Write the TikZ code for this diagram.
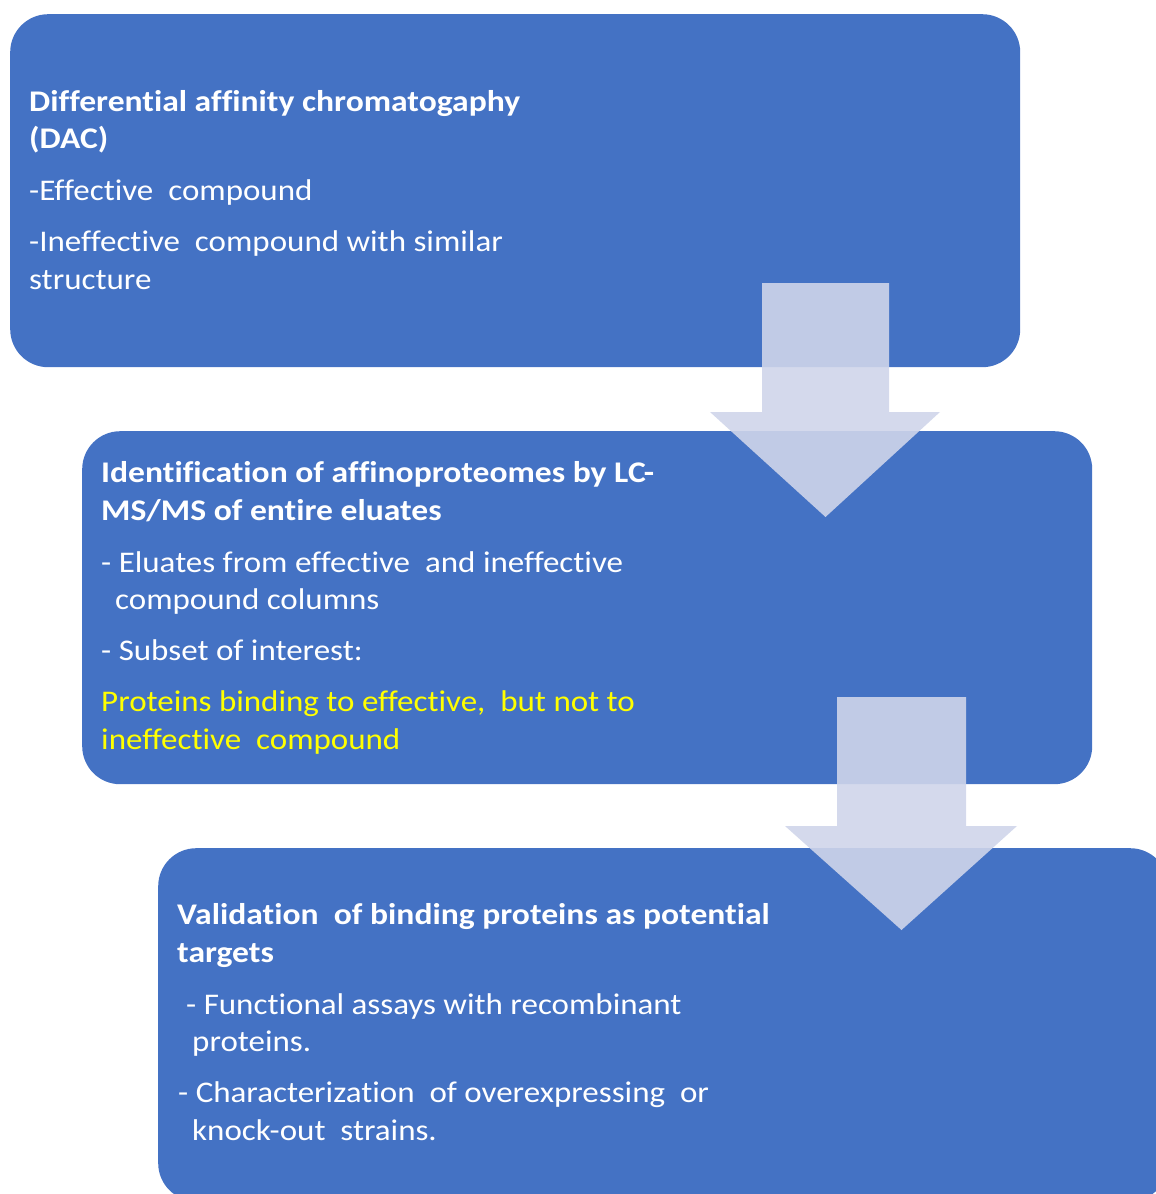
\documentclass[tikz,border=0pt]{standalone}
\usepackage{fontspec}
\setmainfont{Carlito}[FakeStretch=1.1,Ligatures=NoCommon,BoldFeatures={FakeStretch=1.12}]
\usetikzlibrary{positioning}
\definecolor{boxblue}{HTML}{4472C4}
\definecolor{arrowfill}{HTML}{CFD5EA}
\definecolor{keyyellow}{HTML}{FFFF00}
\tikzset{
  stagebox/.style={fill=boxblue,rounded corners=38pt,minimum width=1010pt,minimum height=353pt,anchor=north west,inner sep=0pt},
  stagetext/.style={anchor=base west,inner sep=0pt,align=left,text=white,font=\fontsize{30}{37.5}\selectfont},
  flowarrow/.style={fill=arrowfill,fill opacity=0.9}
}
\begin{document}
\begin{tikzpicture}[x=1pt,y=-1pt]
  \useasboundingbox (0,0) rectangle (1156,1194);
  \clip (0,0) rectangle (1156,1194);
  % the three stages
  \node[stagebox] (dac) at (10,14) {};
  \node[stagebox] (lcms) at (82,431) {};
  \node[stagebox] (valid) at (158,848) {};
  % block arrows between stages
  \fill[flowarrow] (762,283) -- (889,283) -- (889,412) -- (940,412) -- (825.5,517) -- (710,412) -- (762,412) -- cycle;
  \fill[flowarrow] (837,697) -- (966,697) -- (966,826) -- (1017,826) -- (901.5,930) -- (785,826) -- (837,826) -- cycle;
  % texts (placed at the baseline of their last line)
  \node[stagetext] (dactext) at (29,289) {\textbf{Differential affinity chromatogaphy}\\
    \textbf{(DAC)}\\[14.5pt]
    -Effective\ \ compound\\[13.5pt]
    -Ineffective\ \ compound with similar\\
    structure};
  \node[stagetext] (lcmstext) at (101,749) {\textbf{Identification of affinoproteomes by LC-}\\
    \textbf{MS/MS of entire eluates}\\[14.5pt]
    - Eluates from effective\ \ and ineffective\\
    \hspace*{14pt}compound columns\\[13.5pt]
    - Subset of interest:\\[13.5pt]
    \textcolor{keyyellow}{Proteins binding to effective,\ \ but not to}\\
    \textcolor{keyyellow}{ineffective\ \ compound}};
  \node[stagetext] (validtext) at (177,1140) {\textbf{Validation\ \ of binding proteins as potential}\\
    \textbf{targets}\\[14.5pt]
    \hspace*{9pt}- Functional assays with recombinant\\
    \hspace*{15pt}proteins.\\[13.5pt]
    \hspace*{1pt}- Characterization\ \ of overexpressing\ \ or\\
    \hspace*{15pt}knock-out\ \ strains.};
\end{tikzpicture}
\end{document}
